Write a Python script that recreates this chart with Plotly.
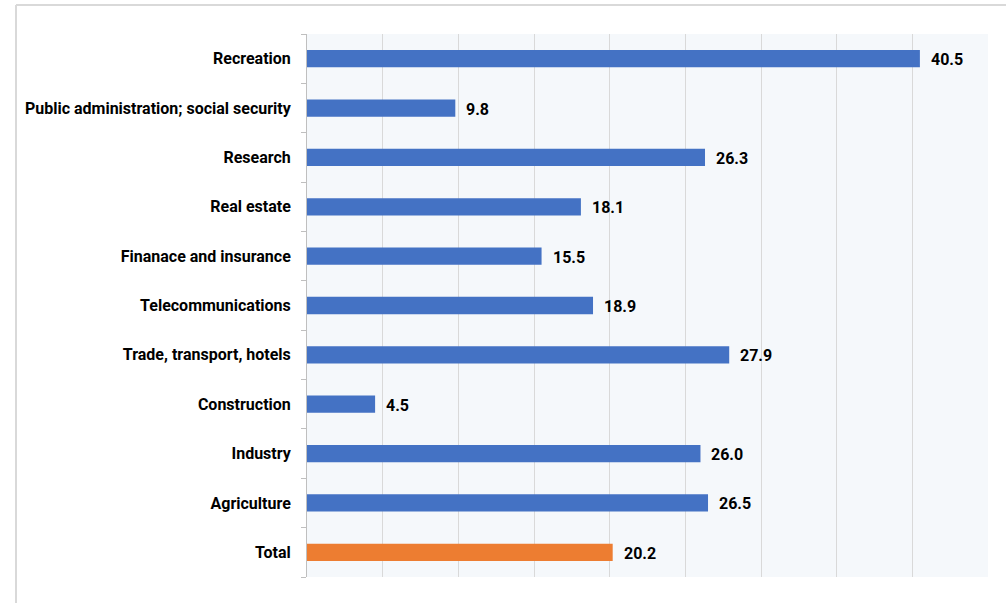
import plotly.graph_objects as go

categories = ["Recreation", "Public administration; social security", "Research", "Real estate",
              "Finanace and insurance", "Telecommunications", "Trade, transport, hotels",
              "Construction", "Industry", "Agriculture", "Total"]
values = [40.5, 9.8, 26.3, 18.1, 15.5, 18.9, 27.9, 4.5, 26.0, 26.5, 20.2]
colors = ["#4472C4"] * 10 + ["#ED7D31"]

FONT = "Roboto"
FS = 16

fig = go.Figure(go.Bar(
    x=values, y=categories, orientation="h",
    marker=dict(color=colors, line=dict(width=0)),
    hoverinfo="skip",
))

annotations = [dict(x=v, y=c, text=f"<b>{v:.1f}</b>", showarrow=False, xanchor="left",
                    xshift=9, yshift=-1,
                    font=dict(family=FONT, size=FS, color="#000000"))
               for c, v in zip(categories, values)]

W, H = 1006, 603
ml, mr, mt, mb = 307, 18, 34, 26
pw, ph = W - ml - mr, H - mt - mb
bx0 = (16 - ml) / pw
bx1 = (W - ml) / pw
by1 = (H - mb - 5) / ph
by0 = -mb / ph

fig.update_layout(
    width=W, height=H,
    margin=dict(l=ml, r=mr, t=mt, b=mb, pad=0),
    paper_bgcolor="#FFFFFF",
    plot_bgcolor="#F5F8FB",
    bargap=0.65,
    showlegend=False,
    annotations=annotations,
    shapes=[
        dict(type="line", xref="paper", yref="paper", x0=bx0, x1=bx1, y0=by1, y1=by1,
             line=dict(color="#D9D9D9", width=2)),
        dict(type="line", xref="paper", yref="paper", x0=bx0, x1=bx0, y0=by0, y1=by1,
             line=dict(color="#D9D9D9", width=2)),
    ],
    xaxis=dict(range=[0, 45], dtick=5, showticklabels=False, showgrid=True,
               gridcolor="#D9D9D9", gridwidth=1, zeroline=False, showline=False,
               fixedrange=True, automargin=False),
    yaxis=dict(autorange="reversed", tickson="boundaries", ticks="outside", ticklen=5,
               tickcolor="#BFBFBF", showline=True, linecolor="#BFBFBF", linewidth=1,
               showgrid=False, ticklabelstandoff=12, automargin=False,
               tickfont=dict(family=FONT, size=FS, color="#000000"),
               fixedrange=True),
)
fig.update_yaxes(ticktext=[f"<b>{c}</b>" for c in categories], tickvals=categories)

fig.write_html("out.html")
